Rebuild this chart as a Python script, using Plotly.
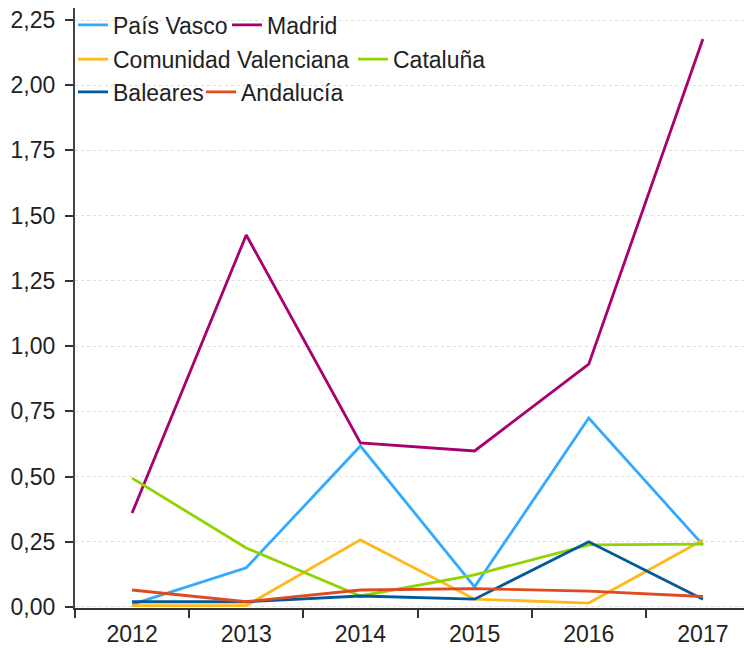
import plotly.graph_objects as go

years = ["2012", "2013", "2014", "2015", "2016", "2017"]
pais_vasco = [0.01, 0.15, 0.617, 0.077, 0.724, 0.238]
madrid = [0.36, 1.426, 0.629, 0.598, 0.931, 2.177]
valenciana = [0.005, 0.005, 0.257, 0.03, 0.015, 0.257]
cataluna = [0.494, 0.226, 0.042, 0.123, 0.238, 0.241]
baleares = [0.02, 0.02, 0.042, 0.03, 0.25, 0.03]
andalucia = [0.065, 0.02, 0.065, 0.07, 0.061, 0.04]

series = [
    ("País Vasco", pais_vasco, "#33aaff", "legend", 109),
    ("Madrid", madrid, "#a8006e", "legend", None),
    ("Comunidad Valenciana", valenciana, "#ffb81c", "legend2", 235),
    ("Cataluña", cataluna, "#8fd400", "legend2", None),
    ("Baleares", baleares, "#005a9c", "legend3", 83),
    ("Andalucía", andalucia, "#e04a1f", "legend3", None),
]

fig = go.Figure()
for name, vals, color, lg, lw in series:
    tr = go.Scatter(x=years, y=vals, name=name, mode="lines",
                    line=dict(color=color, width=2.8), legend=lg)
    if lw:
        tr.legendwidth = lw
    fig.add_trace(tr)

font = dict(family="Liberation Sans, Arial, sans-serif", size=23, color="#222")
leg_common = dict(orientation="h", xanchor="left", yanchor="top",
                  xref="container", x=65 / 744, yref="paper",
                  font=font, bgcolor="rgba(0,0,0,0)", itemwidth=30,
                  tracegroupgap=0, traceorder="normal")
fig.update_layout(
    width=744, height=640,
    margin=dict(l=67, r=0, t=0, b=40, autoexpand=False),
    plot_bgcolor="white", paper_bgcolor="white",
    separators=",.",
    font=font,
    legend=dict(**leg_common, y=1.0075),
    legend2=dict(**leg_common, y=0.9505),
    legend3=dict(**leg_common, y=0.896),
    xaxis=dict(type="category", range=[-0.5, 5.43], tickson="boundaries",
               ticks="outside", ticklen=8, tickcolor="#333", tickwidth=1.5,
               showline=True, linecolor="#333", linewidth=2,
               showgrid=False, tickfont=font, ticklabelstandoff=4),
    yaxis=dict(range=[-0.004, 2.296], tickvals=[0, 0.25, 0.5, 0.75, 1, 1.25, 1.5, 1.75, 2, 2.25],
               tickformat=".2f", ticks="outside", ticklen=8, tickcolor="#333", tickwidth=1.5,
               showline=True, linecolor="#444", linewidth=2.2,
               showgrid=True, gridcolor="#dddddd", griddash="dot", gridwidth=1,
               zeroline=False, tickfont=font, ticklabelstandoff=5,
               ticklabeloverflow="allow"),
    showlegend=True,
)
fig.write_html("out.html")
